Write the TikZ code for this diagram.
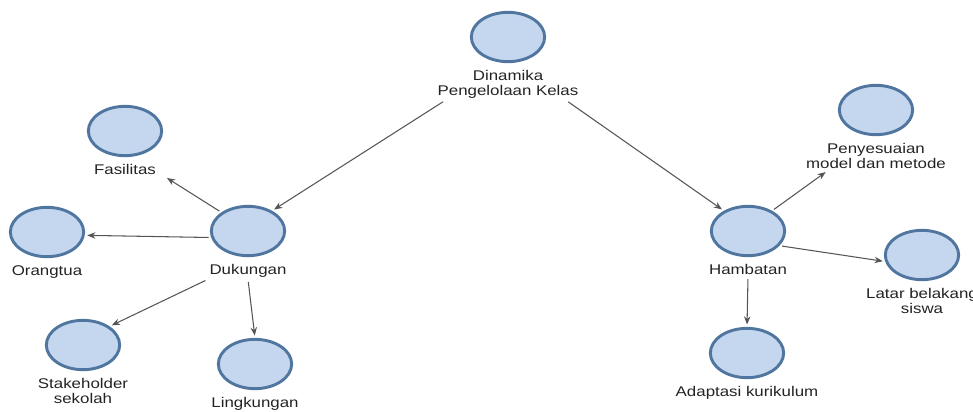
\documentclass[tikz,border=0pt]{standalone}
\usepackage{fontspec}
\usetikzlibrary{positioning,arrows.meta,shapes.geometric}
\newfontfamily\lblfont[FakeStretch=1.2]{Liberation Sans}
\definecolor{isiBiru}{RGB}{196,215,239}
\definecolor{tepiBiru}{RGB}{80,118,160}
\definecolor{teksAbu}{RGB}{35,35,35}
\definecolor{panahAbu}{RGB}{85,85,85}

\begin{document}
\begin{tikzpicture}[x=0.03cm, y=-0.03cm, node distance=4.5pt,
    konsep/.style={ellipse, draw=tepiBiru, fill=isiBiru, line width=2.5pt,
      minimum width=2.2cm, minimum height=1.48cm, inner sep=0pt},
    teks/.style={align=center, inner sep=1.5pt, text=teksAbu,
      font=\lblfont\fontsize{12}{12.8}\selectfont},
    panah/.style={-{Stealth[length=7pt,width=5.5pt]}, draw=panahAbu, line width=0.9pt,
      shorten <=2pt, shorten >=2pt}]
  \useasboundingbox (0,0) rectangle (973,411);

  % ellipses
  \node[konsep] (din) at (508,37) {};
  \node[konsep] (fas) at (125,131) {};
  \node[konsep] (ora) at (47,232) {};
  \node[konsep] (duk) at (248,231) {};
  \node[konsep] (sta) at (83,345) {};
  \node[konsep] (lin) at (255,364) {};
  \node[konsep] (pen) at (876,110) {};
  \node[konsep] (ham) at (748,231) {};
  \node[konsep] (lat) at (922,255) {};
  \node[konsep] (ada) at (747,353) {};

  % texts
  \node[teks, below=of din] (dinT) {Dinamika\\Pengelolaan Kelas};
  \node[teks, below=of fas] (fasT) {Fasilitas};
  \node[teks, below=of ora] (oraT) {Orangtua};
  \node[teks, below=of duk] (dukT) {Dukungan};
  \node[teks, below=of sta] (staT) {Stakeholder\\sekolah};
  \node[teks, below=of lin] (linT) {Lingkungan};
  \node[teks, below=of pen] (penT) {Penyesuaian\\model dan metode};
  \node[teks, below=of ham] (hamT) {Hambatan};
  \node[teks, below=of lat] (latT) {Latar belakang\\siswa};
  \node[teks, below=of ada] (adaT) {Adaptasi kurikulum};

  \draw[panah] ([xshift=8pt]dinT.south west) -- (duk.40);
  \draw[panah] ([xshift=-12pt]dinT.south east) -- (ham.140);

  \draw[panah] (duk.145) -- ([xshift=6pt]fasT.south east);
  \draw[panah] (duk.190) -- (ora.-5);
  \draw[panah] (dukT.south west) -- (sta.35);
  \draw[panah] (dukT.south) -- (lin.north);

  \draw[panah] (ham.40) -- ([xshift=20pt]penT.south west);
  \draw[panah] (ham.-25) -- (lat.190);
  \draw[panah] (hamT.south) -- (ada.north);
\end{tikzpicture}
\end{document}
